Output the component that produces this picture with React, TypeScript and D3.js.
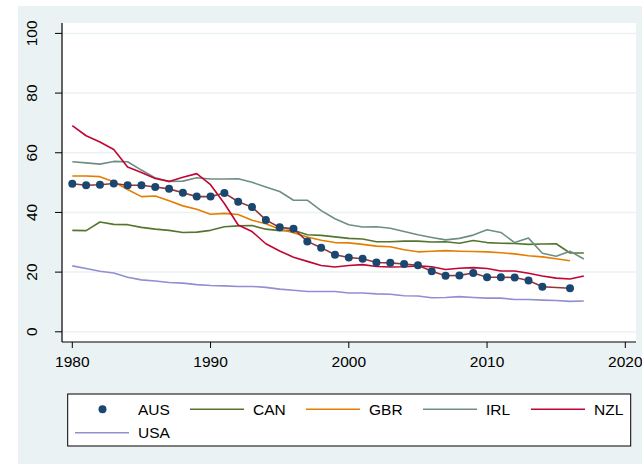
import React, { useRef, useEffect } from "react";
import * as d3 from "d3";

const years = d3.range(1980, 2018);

const aus = [49.6, 49.1, 49.3, 49.7, 49.1, 49.1, 48.5, 47.9, 46.6, 45.3, 45.3, 46.5, 43.6, 41.8, 37.5, 35.0, 34.5, 30.3, 28.2, 25.8,
    24.9, 24.5, 23.2, 23.1, 22.7, 22.3, 20.3, 18.8, 18.9, 19.7, 18.3, 18.3, 18.2, 17.2, 15.1, null, 14.6, null];
const can = [34.0, 33.9, 36.8, 36.0, 35.9, 35.0, 34.4, 34.0, 33.3, 33.4, 34.0, 35.2, 35.5, 35.6, 34.4, 33.9, 34.0, 32.5, 32.3, 31.8,
    31.3, 31.1, 30.2, 30.2, 30.4, 30.4, 30.1, 30.2, 29.7, 30.6, 29.9, 29.7, 29.6, 29.3, 29.4, 29.5, 26.4, 26.4];
const gbr = [52.2, 52.2, 52.0, 50.3, 47.7, 45.3, 45.5, 43.9, 42.2, 41.1, 39.4, 39.7, 39.3, 37.4, 36.2, 34.4, 33.2, 31.8, 30.7, 29.9,
    29.8, 29.3, 28.7, 28.5, 27.5, 26.8, 27.0, 27.2, 27.0, 26.9, 26.8, 26.5, 26.1, 25.5, 25.1, 24.5, 23.8, null];
const irl = [57.0, 56.6, 56.2, 57.1, 57.0, 54.2, 51.6, 50.4, 50.5, 51.6, 51.2, 51.2, 51.3, 50.1, 48.5, 47.0, 44.1, 44.1, 40.6, 37.9,
    35.9, 35.1, 35.2, 34.7, 33.6, 32.5, 31.6, 30.8, 31.3, 32.4, 34.2, 33.3, 29.9, 31.4, 26.3, 25.3, 27.0, 24.4];
const nzl = [69.1, 65.7, 63.6, 61.1, 55.2, 53.4, 51.4, 50.4, 51.8, 53.0, 49.3, 43.0, 35.8, 33.6, 29.5, 27.1, 25.0, 23.6, 22.2, 21.7,
    22.2, 22.5, 21.9, 21.7, 21.8, 22.1, 21.8, 20.9, 21.3, 21.5, 21.2, 20.4, 20.4, 19.6, 18.7, 18.0, 17.7, 18.7];
const usa = [22.1, 21.2, 20.3, 19.7, 18.3, 17.4, 17.0, 16.5, 16.3, 15.8, 15.5, 15.4, 15.2, 15.2, 14.9, 14.3, 13.9, 13.5, 13.5, 13.5,
    13.0, 13.0, 12.7, 12.6, 12.1, 12.0, 11.4, 11.5, 11.8, 11.5, 11.3, 11.3, 10.8, 10.8, 10.6, 10.5, 10.2, 10.3];

const xTicks = [1980, 1990, 2000, 2010, 2020];
const yTicks = [0, 20, 40, 60, 80, 100];

const lineSeries = [
    { label: "CAN", values: can, color: "#55752f" },
    { label: "GBR", values: gbr, color: "#e37e00" },
    { label: "IRL", values: irl, color: "#6e8e84" },
    { label: "NZL", values: nzl, color: "#c10534" },
    { label: "USA", values: usa, color: "#938dd2" },
];

const font = "'Liberation Sans', Arial, Helvetica, sans-serif";

export default function App() {
    const svgRef = useRef<SVGSVGElement>(null);

    useEffect(() => {
        const svg = d3.select(svgRef.current);
        svg.selectAll("*").remove();

        const W = 642, H = 464;
        const plot = { left: 62, top: 23, right: 636, bottom: 342 };

        const x = d3.scaleLinear().domain([1980, 2020]).range([72.3, 625.3]);
        const y = d3.scaleLinear().domain([0, 100]).range([331.8, 33.4]);

        // graph region
        svg.append("rect").attr("x", 18).attr("y", 6).attr("width", W - 18).attr("height", H - 6).attr("fill", "#eaf2f3");
        svg.append("rect").attr("x", plot.left).attr("y", plot.top)
            .attr("width", plot.right - plot.left).attr("height", plot.bottom - plot.top).attr("fill", "#fff");

        // grid
        svg.append("g").selectAll("line").data(yTicks).enter().append("line")
            .attr("x1", plot.left).attr("x2", plot.right)
            .attr("y1", d => y(d)).attr("y2", d => y(d))
            .attr("stroke", "#eaf2f3").attr("stroke-width", 1.5);

        // lines
        const line = d3.line<[number, number | null]>()
            .defined(d => d[1] != null)
            .x(d => x(d[0]))
            .y(d => y(d[1] as number));

        lineSeries.forEach(s => {
            svg.append("path")
                .attr("d", line(years.map((yr, i) => [yr, s.values[i]])))
                .attr("fill", "none").attr("stroke", s.color).attr("stroke-width", 1.6)
                .attr("stroke-linejoin", "round");
        });

        // AUS: connected markers (gaps skipped)
        const ausPts = years.map((yr, i) => [yr, aus[i]] as [number, number | null]).filter(d => d[1] != null);
        svg.append("path")
            .attr("d", line(ausPts))
            .attr("fill", "none").attr("stroke", "#90353b").attr("stroke-width", 1.6);
        svg.append("g").selectAll("circle").data(ausPts).enter().append("circle")
            .attr("cx", d => x(d[0])).attr("cy", d => y(d[1] as number)).attr("r", 4)
            .attr("fill", "#1a476f");

        // axes
        svg.append("line").attr("x1", plot.left).attr("x2", plot.left).attr("y1", plot.top).attr("y2", plot.bottom)
            .attr("stroke", "#000").attr("stroke-width", 1.2);
        svg.append("line").attr("x1", plot.left).attr("x2", plot.right).attr("y1", plot.bottom).attr("y2", plot.bottom)
            .attr("stroke", "#000").attr("stroke-width", 1.2);

        const yAxis = svg.append("g");
        yAxis.selectAll("line").data(yTicks).enter().append("line")
            .attr("x1", 55).attr("x2", plot.left).attr("y1", d => y(d)).attr("y2", d => y(d))
            .attr("stroke", "#000").attr("stroke-width", 1);
        yAxis.selectAll("text").data(yTicks).enter().append("text")
            .attr("transform", d => `translate(36.5,${y(d)}) rotate(-90)`)
            .attr("text-anchor", "middle")
            .attr("font-family", font).attr("font-size", 15.5).attr("fill", "#000")
            .text(d => d);

        const xAxis = svg.append("g");
        xAxis.selectAll("line").data(xTicks).enter().append("line")
            .attr("x1", d => x(d)).attr("x2", d => x(d)).attr("y1", plot.bottom).attr("y2", plot.bottom + 6)
            .attr("stroke", "#000").attr("stroke-width", 1);
        xAxis.selectAll("text").data(xTicks).enter().append("text")
            .attr("x", d => x(d)).attr("y", 366.5)
            .attr("text-anchor", "middle")
            .attr("font-family", font).attr("font-size", 15.5).attr("fill", "#000")
            .text(d => d);

        // legend
        const lg = svg.append("g");
        lg.append("rect").attr("x", 67.7).attr("y", 394).attr("width", 563).attr("height", 52)
            .attr("fill", "#fff").attr("stroke", "#000").attr("stroke-width", 1);

        const legendItems = [{ label: "AUS", color: "#1a476f", marker: true }, ...lineSeries.map(s => ({ label: s.label, color: s.color, marker: false }))];
        const colX = [75, 190, 306, 423, 531];
        legendItems.forEach((d, i) => {
            const col = i % 5, row = Math.floor(i / 5);
            const cx = colX[col], cy = 409.3 + row * 23.4;
            if (d.marker) {
                lg.append("circle").attr("cx", cx + 27.5).attr("cy", cy).attr("r", 4).attr("fill", d.color);
            } else {
                lg.append("line").attr("x1", cx).attr("x2", cx + 54).attr("y1", cy).attr("y2", cy)
                    .attr("stroke", d.color).attr("stroke-width", 1.6);
            }
            lg.append("text").attr("x", cx + 63).attr("y", cy + 5.6)
                .attr("font-family", font).attr("font-size", 15.5).attr("fill", "#000")
                .text(d.label);
        });
    }, []);

    return (
        <svg ref={svgRef} width={642} height={464}
            style={{ position: "absolute", left: 0, top: 0, display: "block", background: "#fff" }} />
    );
}
